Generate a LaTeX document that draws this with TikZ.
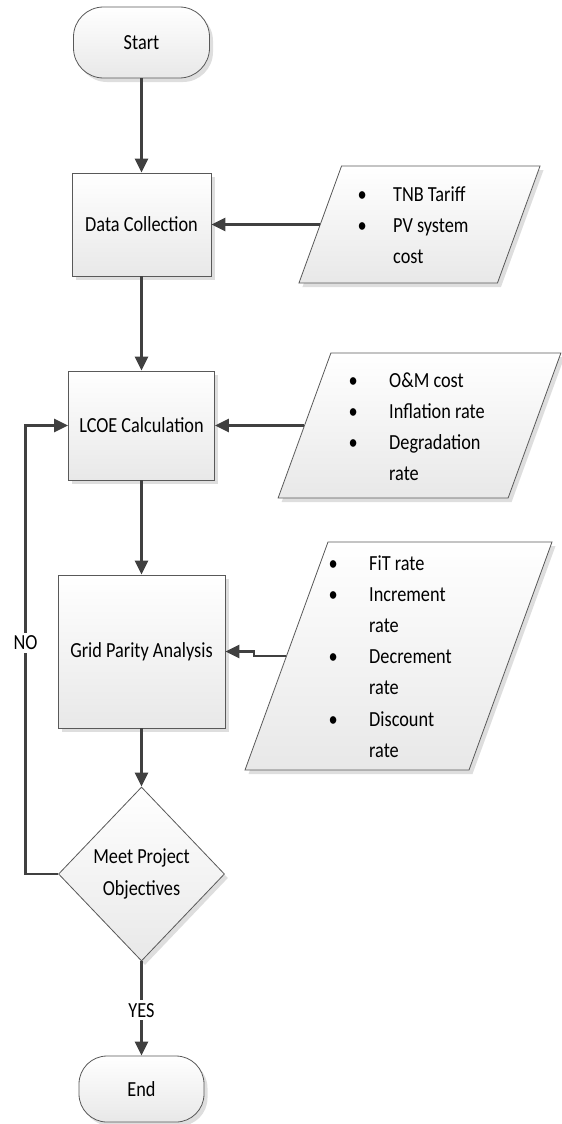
\documentclass[tikz,border=0pt]{standalone}
\usepackage{fontspec}
\setmainfont{Carlito}[FakeStretch=0.85]
\usetikzlibrary{arrows.meta,shapes.geometric,shadows}
\newcommand\bl[1]{\makebox[#1][l]{\makebox[0pt]{•}}}
\begin{document}
\begin{tikzpicture}[x=1pt,y=-1pt,
  every node/.style={font=\fontsize{21.5}{24}\selectfont, text=black},
  shp/.style={draw=black!65, line width=0.8pt, top color=white, bottom color=black!9,
    drop shadow={shadow xshift=3.5pt, shadow yshift=-4pt, fill=black!13, opacity=1}},
  proc/.style={shp, rectangle, inner sep=0pt},
  term/.style={shp, rectangle, rounded corners=30pt, inner sep=0pt},
  para/.style={shp, rectangle, inner sep=0pt, transform shape},
  dec/.style={shp, diamond, inner sep=0pt, align=center, font=\fontsize{21.5}{32}\selectfont},
  conn/.style={draw=black!75, line width=2.6pt, -{Triangle[length=14pt,width=13pt]}},
  lbl/.style={fill=white, inner sep=3pt},
  lst/.style={anchor=base west, inner sep=0pt}
]
\useasboundingbox (0,0) rectangle (562,1124);

% main column
\node[term, minimum width=136pt, minimum height=71pt] (start) at (141.5,42.5) {Start};
\node[proc, minimum width=139pt, minimum height=103pt] (data) at (141.5,224.5) {Data Collection};
\node[proc, minimum width=146pt, minimum height=109pt] (lcoe) at (141.5,425.5) {LCOE Calculation};
\node[proc, minimum width=167pt, minimum height=153pt] (grid) at (141.5,651.5) {Grid Parity Analysis};
\node[dec, minimum width=166pt, minimum height=174pt] (dia) at (141.5,874) {Meet Project\\Objectives};
\node[term, minimum width=125pt, minimum height=66pt, rounded corners=28pt] (end) at (141.5,1089) {End};

% inputs (parallelograms)
\begin{scope}[shift={(419.5,224.5)}, xslant=0.364]
  \node[para, minimum width=198.5pt, minimum height=117pt] (dpara) at (0,0) {};
\end{scope}
\begin{scope}[shift={(419.5,425.5)}, xslant=0.364]
  \node[para, minimum width=230pt, minimum height=145pt] (lpara) at (0,0) {};
\end{scope}
\begin{scope}[shift={(398.5,656)}, xslant=0.364]
  \node[para, minimum width=224pt, minimum height=228pt] (gpara) at (0,0) {};
\end{scope}

\node[lst, font=\fontsize{21.5}{31}\selectfont] (dlist) at (362,201.5)
  {\begin{tabular}[t]{@{}l@{}}\bl{31pt}TNB Tariff\\ \bl{31pt}PV system\\ \hspace*{31pt}cost\end{tabular}};
\node[lst, font=\fontsize{21.5}{31.3}\selectfont] (llist) at (353,387)
  {\begin{tabular}[t]{@{}l@{}}\bl{36pt}O\&M cost\\ \bl{36pt}Inflation rate\\ \bl{36pt}Degradation\\ \hspace*{36pt}rate\end{tabular}};
\node[lst, font=\fontsize{21.5}{31.1}\selectfont] (glist) at (333,570.5)
  {\begin{tabular}[t]{@{}l@{}}\bl{36pt}FiT rate\\ \bl{36pt}Increment\\ \hspace*{36pt}rate\\ \bl{36pt}Decrement\\ \hspace*{36pt}rate\\ \bl{36pt}Discount\\ \hspace*{36pt}rate\end{tabular}};

% connectors
\draw[conn] (start) -- (data);
\draw[conn] (data) -- (lcoe);
\draw[conn] (lcoe) -- (grid);
\draw[conn] (grid) -- (dia);
\draw[conn] (dia) -- node[lbl, pos=0.52] (yes) {YES} (end);
\draw[conn] (dpara.west) -- (data.east);
\draw[conn] (lpara.west) -- (lcoe.east);
\draw[conn] (gpara.west) -- ++(-32,0) |- (grid.east);
\draw[conn] (dia.west) -- ++(-32.5,0) |- node[lbl, pos=0.2575] (no) {NO} (lcoe.west);
\end{tikzpicture}
\end{document}
